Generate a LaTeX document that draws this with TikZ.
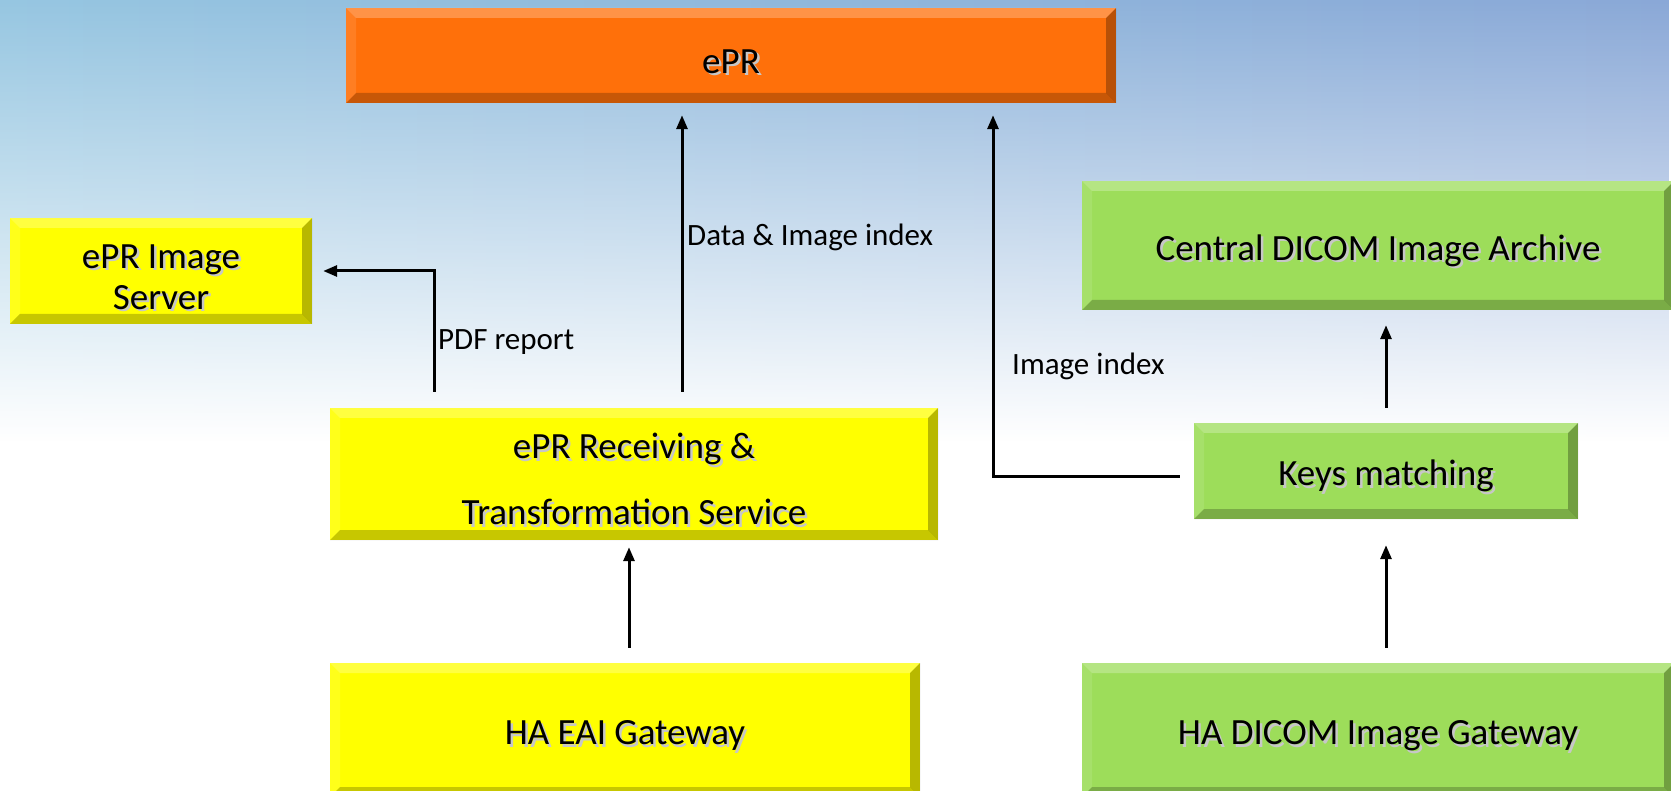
\documentclass[tikz,border=0pt]{standalone}
\usepackage{fontspec}
\setmainfont{Carlito}
\usetikzlibrary{arrows.meta,fadings}

\definecolor{skyleft}{RGB}{150,198,225}
\definecolor{skymid}{RGB}{188,222,240}
\definecolor{skyright}{RGB}{138,168,215}
\definecolor{eprorange}{RGB}{255,112,10}
\definecolor{eaiyellow}{RGB}{255,255,0}
\definecolor{dicomgreen}{RGB}{157,221,90}

\newcommand{\boxfont}{\fontsize{37}{44}\selectfont}
\newcommand{\labelfont}{\fontsize{31}{37}\selectfont}
\newcommand{\shtext}[1]{\makebox[0pt][l]{\hspace{2.5pt}\raisebox{-2.5pt}{\color{black!22}#1}}#1}
\newcommand{\dn}{\rule{0pt}{38pt}}

\begin{document}
\begin{tikzpicture}[x=1pt, y=1pt]
  % Hintergrund.
  \useasboundingbox (0,0) rectangle (1671,-791);
  \fill[white] (0,0) rectangle (1671,-791);
  \shade[left color=skyleft, middle color=skymid, right color=skyright, path fading=south]
    (0,0) rectangle (1671,-440);

  % Kaesten.
  \tikzstyle{box}=[rectangle, inner sep=0pt, align=center, font=\boxfont,
    path picture={
      \fill[white, opacity=0.25] (path picture bounding box.north west) -- (path picture bounding box.north east)
        -- ([shift={(-10,-10)}]path picture bounding box.north east) -- ([shift={(10,-10)}]path picture bounding box.north west) -- cycle;
      \fill[white, opacity=0.1] (path picture bounding box.north west) -- (path picture bounding box.south west)
        -- ([shift={(10,10)}]path picture bounding box.south west) -- ([shift={(10,-10)}]path picture bounding box.north west) -- cycle;
      \fill[black, opacity=0.22] (path picture bounding box.south west) -- (path picture bounding box.south east)
        -- ([shift={(-10,10)}]path picture bounding box.south east) -- ([shift={(10,10)}]path picture bounding box.south west) -- cycle;
      \fill[black, opacity=0.28] (path picture bounding box.north east) -- (path picture bounding box.south east)
        -- ([shift={(-10,10)}]path picture bounding box.south east) -- ([shift={(-10,-10)}]path picture bounding box.north east) -- cycle;
    }]
  \tikzstyle{epr}=[box, fill=eprorange]
  \tikzstyle{eai}=[box, fill=eaiyellow]
  \tikzstyle{dicom}=[box, fill=dicomgreen]

  \node[epr, minimum width=770pt, minimum height=95pt] (epr) at (731,-55.5) {\dn\shtext{ePR}};
  \node[eai, minimum width=302pt, minimum height=106pt, font=\fontsize{37}{41}\selectfont] (imgsrv) at (161,-271)
    {\dn\shtext{ePR Image}\\\shtext{Server}};
  \node[eai, minimum width=608pt, minimum height=132pt] (recv) at (634,-474)
    {\dn\shtext{ePR Receiving \&}\\[22pt]\shtext{Transformation Service}};
  \node[eai, minimum width=590pt, minimum height=134pt] (gw) at (625,-730) {\dn\shtext{HA EAI Gateway}};
  \node[dicom, minimum width=592pt, minimum height=129pt] (archive) at (1378,-245.5) {\dn\shtext{Central DICOM Image Archive}};
  \node[dicom, minimum width=384pt, minimum height=96pt] (keys) at (1386,-471) {\dn\shtext{Keys matching}};
  \node[dicom, minimum width=592pt, minimum height=134pt] (dicomgw) at (1378,-730) {\dn\shtext{HA DICOM Image Gateway}};

  % Pfeile.
  \tikzstyle{flow}=[line width=3pt, -{Triangle[length=14pt, width=11pt]}]
  \coordinate (dataX) at (682,0);
  \coordinate (pdfX) at (434,0);
  \coordinate (idxX) at (993,0);
  \coordinate (idxY) at (0,-476);
  \coordinate (gwX) at (629,0);

  \draw[flow, shorten <=16pt, shorten >=12pt] (recv.north -| dataX) -- (epr.south -| dataX);
  \draw[flow, shorten <=16pt, shorten >=11pt] (recv.north -| pdfX) |- (imgsrv.east);
  \draw[flow, shorten <=14pt, shorten >=12pt] (keys.west |- idxY) -| (epr.south -| idxX);
  \draw[flow, shorten <=15pt, shorten >=7pt] (gw.north -| gwX) -- (recv.south -| gwX);
  \draw[flow, shorten <=15pt, shorten >=15pt] (keys.north) -- (archive.south -| keys.north);
  \draw[flow, shorten <=15pt, shorten >=26pt] (dicomgw.north -| keys.south) -- (keys.south);

  % Beschriftungen.
  \tikzstyle{lbl}=[anchor=west, inner sep=0pt, font=\labelfont]
  \node[lbl] (datalbl) at (687,-237) {Data \& Image index};
  \node[lbl] (pdflbl) at (438,-342) {PDF report};
  \node[lbl] (idxlbl) at (1012,-366) {Image index};
\end{tikzpicture}
\end{document}
